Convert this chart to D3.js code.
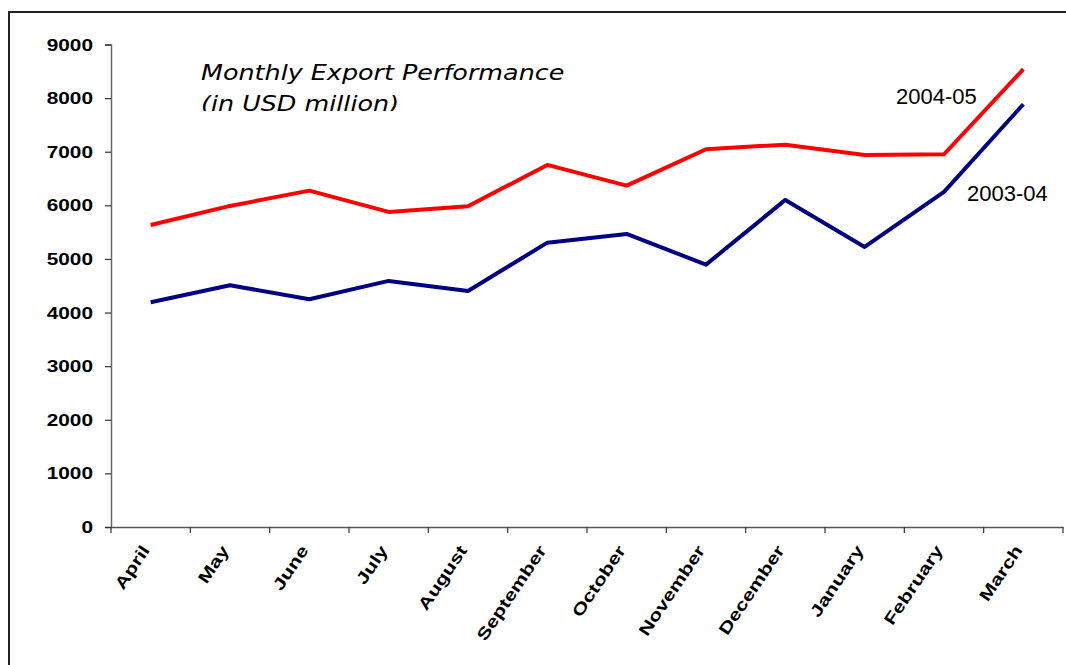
<!DOCTYPE html>
<html>
  <head>
    <meta charset="utf-8">
    <title>Monthly Export Performance</title>
    <script src="https://d3js.org/d3.v7.min.js"></script>
    <style>
      body { margin: 0; background: #fff; }
      svg { display: block; }
    </style>
  </head>
  <body>
  	<script>
  	// data
  		var months = ["April", "May", "June", "July", "August", "September",
  			"October", "November", "December", "January", "February", "March"];
  		var exports0405 = [5634, 5989, 6274, 5877, 5983, 6754, 6368, 7047, 7132, 6940, 6953, 8539];
  		var exports0304 = [4192, 4509, 4248, 4590, 4403, 5304, 5466, 4894, 6101, 5224, 6250, 7886];
  		var yTicks = [0, 1000, 2000, 3000, 4000, 5000, 6000, 7000, 8000, 9000];
  		var seriesNames = ["2004-05", "2003-04"];

  	// basic setting
  		var width = 1066;
  		var height = 665;
  		var stretch = 1.3;   // axis fonts are drawn wide in the original

  		var svg = d3.select("body").append("svg")
  			.attr("width", width)
  			.attr("height", height);

  	// frame
  		svg.append("rect")
  			.attr("x", 9).attr("y", 12)
  			.attr("width", 1080).attr("height", 700)
  			.attr("fill", "none")
  			.attr("stroke", "#222")
  			.attr("stroke-width", 2);

  	// scales
  		var x = d3.scaleBand()
  			.domain(months)
  			.range([111, 1063]);

  		var y = d3.scaleLinear()
  			.domain([0, 9000])
  			.range([527, 44.5]);

  		function cx(m) { return x(m) + x.bandwidth() / 2; }

  	// y axis
  		var yAxis = svg.append("g")
  			.attr("transform", "translate(" + x.range()[0] + ",0)")
  			.call(d3.axisLeft(y).tickValues(yTicks).tickSize(6).tickFormat(d3.format("d")));

  		yAxis.select(".domain").attr("stroke", "#666").attr("stroke-width", 1.5);
  		yAxis.selectAll(".tick line").attr("stroke", "#333").attr("stroke-width", 1.2);
  		yAxis.selectAll(".tick text")
  			.attr("x", 0)
  			.attr("dy", "0.35em")
  			.attr("transform", "translate(-18,0) scale(" + stretch + ",1)")
  			.attr("font-family", "'Liberation Sans', Arial, sans-serif")
  			.attr("font-weight", "bold")
  			.attr("font-size", 16)
  			.attr("fill", "#000");

  	// x axis: line, ticks between categories, rotated labels
  		var xAxis = svg.append("g")
  			.attr("transform", "translate(0," + y(0) + ")")
  			.call(d3.axisBottom(x).tickSize(0).tickFormat(""));

  		xAxis.select(".domain").attr("stroke", "#555").attr("stroke-width", 1.5);

  		var bounds = months.map(function(m) { return x(m); }).concat([x.range()[1]]);
  		xAxis.selectAll(".bound")
  			.data(bounds)
  			.enter()
  			.append("line")
  			.attr("class", "bound")
  			.attr("x1", function(d) { return d; })
  			.attr("x2", function(d) { return d; })
  			.attr("y1", 0)
  			.attr("y2", 6)
  			.attr("stroke", "#333")
  			.attr("stroke-width", 1.2);

  		xAxis.selectAll(".mlabel")
  			.data(months)
  			.enter()
  			.append("text")
  			.attr("class", "mlabel")
  			.attr("transform", function(d) {
  				return "translate(" + (cx(d) - 5) + ",20) rotate(-56) scale(" + stretch + ",1)";
  			})
  			.attr("dy", "0.35em")
  			.attr("text-anchor", "end")
  			.attr("font-family", "'Liberation Sans', Arial, sans-serif")
  			.attr("font-weight", "bold")
  			.attr("font-size", 16.5)
  			.attr("fill", "#000")
  			.text(function(d) { return d; });

  	// lines
  		var line = d3.line()
  			.x(function(d, i) { return cx(months[i]); })
  			.y(function(d) { return y(d); });

  		svg.append("path")
  			.datum(exports0304)
  			.attr("d", line)
  			.attr("fill", "none")
  			.attr("stroke", "#000080")
  			.attr("stroke-width", 4)
  			.attr("stroke-linejoin", "round");

  		svg.append("path")
  			.datum(exports0405)
  			.attr("d", line)
  			.attr("fill", "none")
  			.attr("stroke", "#ff0000")
  			.attr("stroke-width", 4)
  			.attr("stroke-linejoin", "round");

  	// series labels
  		svg.append("text")
  			.attr("x", 896).attr("y", 104)
  			.attr("font-family", "'Liberation Sans', Arial, sans-serif")
  			.attr("font-size", 22)
  			.attr("fill", "#000")
  			.text(seriesNames[0]);

  		svg.append("text")
  			.attr("x", 967).attr("y", 201)
  			.attr("font-family", "'Liberation Sans', Arial, sans-serif")
  			.attr("font-size", 22)
  			.attr("fill", "#000")
  			.text(seriesNames[1]);

  	// title, second line is cut off in the original
  		svg.append("clipPath")
  			.attr("id", "titleClip")
  			.append("rect")
  			.attr("x", 0).attr("y", 0)
  			.attr("width", width).attr("height", 111);

  		var title = svg.append("g")
  			.attr("clip-path", "url(#titleClip)")
  			.append("text")
  			.attr("transform", "translate(201,80) scale(1.24,1)")
  			.attr("font-family", "'DejaVu Sans', sans-serif")
  			.attr("font-style", "italic")
  			.attr("font-size", 20.5)
  			.attr("fill", "#000");

  		title.append("tspan").attr("x", 0).attr("y", 0).text("Monthly Export Performance");
  		title.append("tspan").attr("x", 0).attr("y", 31).text("(in USD million)");
  	</script>
  </body>
</html>
